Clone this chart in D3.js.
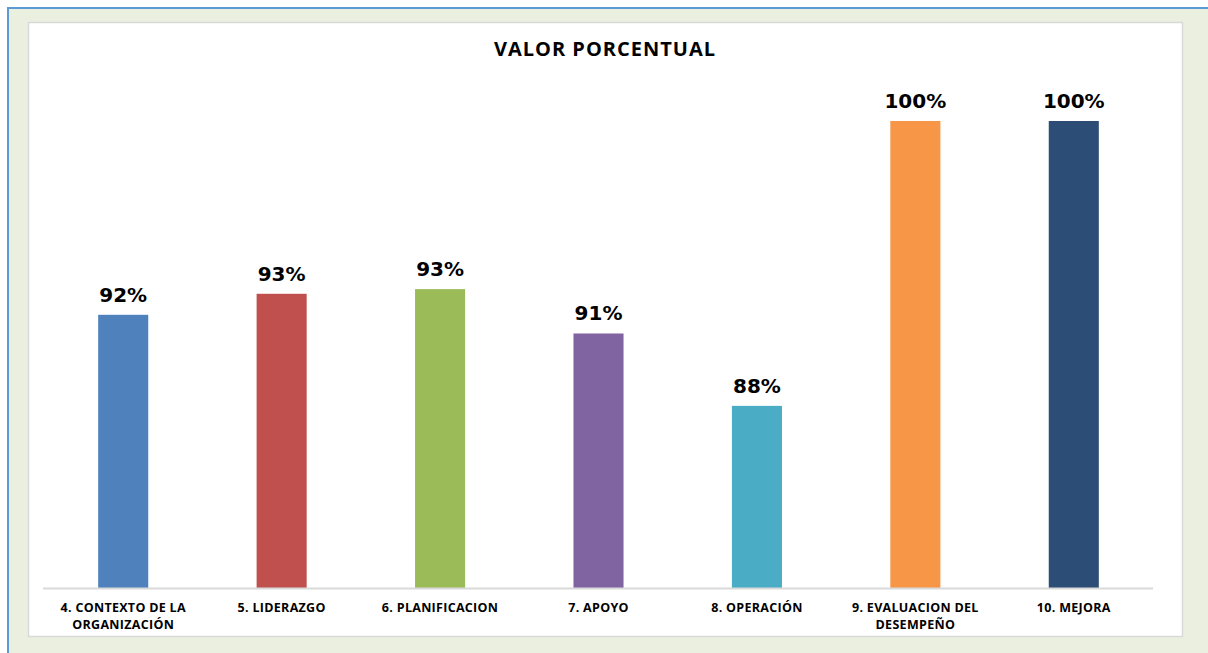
<!DOCTYPE html>
<html lang="es">
  <head>
    <meta charset="UTF-8">
    <title>Valor porcentual</title>
    <script src="https://cdn.jsdelivr.net/npm/d3@7"></script>
    <style>
      html, body {
        margin: 0;
        padding: 0;
        background: #fff;
      }
      .cat-label {
        font-family: 'Open Sans', sans-serif;
        font-weight: bold;
        font-size: 12.5px;
        letter-spacing: 0.3px;
      }
      .value-label {
        font-family: 'DejaVu Sans', sans-serif;
        font-weight: bold;
        font-size: 20px;
      }
      .title {
        font-family: 'Open Sans', sans-serif;
        font-weight: bold;
        font-size: 20px;
        letter-spacing: 1px;
      }
    </style>
  </head>
  <body>
    <script>
      // datos
      const categories = [
        ["4. CONTEXTO DE LA", "ORGANIZACIÓN"],
        ["5. LIDERAZGO"],
        ["6. PLANIFICACION"],
        ["7. APOYO"],
        ["8. OPERACIÓN"],
        ["9. EVALUACION DEL", "DESEMPEÑO"],
        ["10. MEJORA"]
      ];
      const values = [0.917, 0.926, 0.928, 0.909, 0.878, 1.0, 1.0];
      const colors = ["#4F81BD", "#C0504D", "#9BBB59", "#8064A2", "#4BACC6", "#F79646", "#2C4D75"];
      const yDomain = [0.80, 1.0];

      const W = 1208, H = 653;
      const svg = d3.select("body").append("svg")
        .attr("width", W)
        .attr("height", H);

      // marco
      svg.append("rect").attr("x", 0).attr("y", 0).attr("width", W).attr("height", H).attr("fill", "#fff");
      svg.append("rect").attr("x", 8).attr("y", 8).attr("width", W - 8).attr("height", H - 8).attr("fill", "#EBEFDF");
      svg.append("line").attr("x1", 7).attr("x2", W).attr("y1", 8).attr("y2", 8)
        .attr("stroke", "#5B9BD5").attr("stroke-width", 2);
      svg.append("line").attr("x1", 8).attr("x2", 8).attr("y1", 7).attr("y2", H)
        .attr("stroke", "#5B9BD5").attr("stroke-width", 2);
      svg.append("rect").attr("x", 28.5).attr("y", 22.5).attr("width", 1154).attr("height", 614)
        .attr("fill", "#fff").attr("stroke", "#D9D9D9").attr("stroke-width", 1.5);

      svg.append("text")
        .attr("class", "title")
        .attr("x", 605)
        .attr("y", 56)
        .attr("text-anchor", "middle")
        .text("VALOR PORCENTUAL");

      const x = d3.scaleBand()
        .domain(d3.range(categories.length))
        .range([44, 1153])
        .paddingInner(0.684)
        .paddingOuter(0.342);

      const y = d3.scaleLinear().domain(yDomain).range([588, 121]);

      svg.selectAll("rect.bar")
        .data(values)
        .enter()
        .append("rect")
        .attr("class", "bar")
        .attr("x", (d, i) => x(i))
        .attr("y", d => y(d))
        .attr("width", x.bandwidth())
        .attr("height", d => y(yDomain[0]) - y(d))
        .attr("fill", (d, i) => colors[i]);

      // eje x
      svg.append("line")
        .attr("x1", 43).attr("x2", 1153)
        .attr("y1", y(yDomain[0]) + 0.5).attr("y2", y(yDomain[0]) + 0.5)
        .attr("stroke", "#D9D9D9").attr("stroke-width", 2);

      const fmt = d3.format(".0%");
      svg.selectAll("text.value-label")
        .data(values)
        .enter()
        .append("text")
        .attr("class", "value-label")
        .attr("x", (d, i) => x(i) + x.bandwidth() / 2)
        .attr("y", d => y(d) - 13)
        .attr("text-anchor", "middle")
        .text(d => fmt(d));

      const cats = svg.selectAll("text.cat-label")
        .data(categories)
        .enter()
        .append("text")
        .attr("class", "cat-label")
        .attr("text-anchor", "middle")
        .attr("transform", (d, i) => `translate(${x(i) + x.bandwidth() / 2},612)`);

      cats.selectAll("tspan")
        .data(d => d)
        .enter()
        .append("tspan")
        .attr("x", 0)
        .attr("y", (d, i) => i * 17)
        .text(d => d);
    </script>
  </body>
</html>
